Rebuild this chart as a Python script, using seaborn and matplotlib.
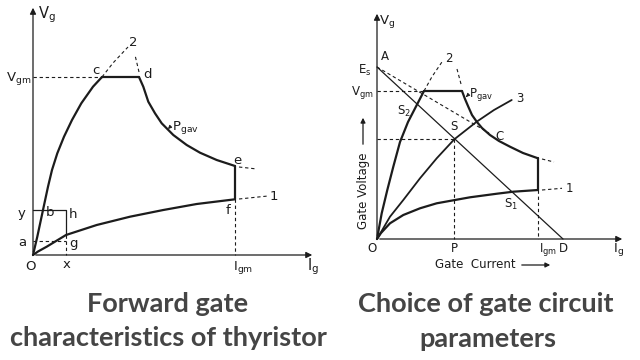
import matplotlib
matplotlib.use("Agg")
import matplotlib.pyplot as plt
import seaborn as sns

# ---- left diagram: forward gate characteristics (units) ----
L_IGM, L_VGM = 202, 178
L_X, L_Y, L_A = 33, 45, 14
L_upper_ig = [0, 4.3, 10, 15, 19, 24.3, 31, 39, 48.3, 60, 69]
L_upper_vg = [0, 18.3, 45, 68.3, 85, 101.7, 118.3, 135, 151.7, 168.3, 178]
L_top_ig = [69, 106]
L_pgav_ig = [106, 110.3, 115.3, 122, 128.7, 140.3, 153.7, 167, 183.7, 202]
L_pgav_vg = [178, 168.3, 153.3, 141.7, 131.7, 120, 110, 102.3, 95, 89]
L_lower_ig = [0, 5, 13.7, 33, 63.7, 97, 130.3, 163.7, 202]
L_lower_vg = [0, 3.5, 8.3, 20, 30, 38.3, 45, 51, 55.7]
L_ext2_ig, L_ext2_vg = [69, 80, 95], [178, 192, 208]
L_extd_ig, L_extd_vg = [106, 102], [183, 200]
L_exte_ig, L_exte_vg = [206, 224], [88, 86]
L_ext1_ig, L_ext1_vg = [206, 235], [56, 59]

# ---- right diagram: choice of gate circuit parameters ----
R_IGM, R_VGM, R_ES, R_D = 161, 148, 172, 186
R_P, R_VS = 77.3, 99.7
R_curve2_ig = [0, 4.7, 10.3, 16.3, 23, 31, 39, 47]
R_curve2_vg = [0, 25.7, 49, 72.3, 97, 117, 132.5, 148]
R_top_ig = [47, 85]
R_pgav_ig = [85, 88, 91.3, 95, 99.7, 105, 113, 122, 133, 146, 161]
R_pgav_vg = [148, 140, 132.3, 124, 117.3, 111, 104, 98, 92.3, 86, 80.7]
R_curve1_ig = [0, 4, 13, 26.3, 43, 59.7, 93, 120, 136.3, 161]
R_curve1_vg = [0, 6, 15.7, 24, 30.7, 35.7, 41.7, 45.3, 47.3, 49]
R_curve3_ig = [0, 13, 26.3, 43, 59.7, 77.3, 99.7, 117, 134.7]
R_curve3_vg = [0, 22.3, 39, 60.7, 80.7, 99.7, 117.3, 129, 139]
R_tangent_ig, R_tangent_vg = [0, 112], [172, 106]
R_ext2_ig, R_ext2_vg = [47, 55, 66.3], [148, 162.3, 179]
R_extd_ig, R_extd_vg = [84, 80], [155, 170]
R_exte_ig, R_exte_vg = [165, 177], [80, 77]
R_ext1_ig, R_ext1_vg = [165, 185], [49, 50.7]

INK = "#1c1c1c"

sns.set_theme(style="white")
plt.rcParams["font.family"] = ["DejaVu Sans"]
plt.rcParams["mathtext.default"] = "regular"

fig = plt.figure(figsize=(6.4, 3.6), dpi=100)
axl = fig.add_axes([0, 70 / 360, 0.5, 290 / 360])
axr = fig.add_axes([0.5, 70 / 360, 0.5, 290 / 360])
axl.set_xlim(-33, 287)
axl.set_ylim(-35, 255)
axr.set_xlim(-57, 263)
axr.set_ylim(-51, 239)


def curve(ax, xs, ys, lw=1.6, ls="-"):
    sns.lineplot(x=xs, y=ys, sort=False, estimator=None, color=INK,
                 lw=lw, linestyle=ls, ax=ax, solid_joinstyle="round")


def dash(ax, xs, ys):
    curve(ax, xs, ys, lw=0.8, ls=(0, (3, 2.5)))


def axes_arrows(ax, xmax, ymax):
    kw = dict(arrowstyle="-|>", lw=0.9, color=INK, mutation_scale=9)
    ax.annotate("", xy=(xmax, 0), xytext=(0, 0), arrowprops=kw)
    ax.annotate("", xy=(0, ymax), xytext=(0, 0), arrowprops=kw)


# left panel
ax = axl
axes_arrows(ax, 282, 250)
curve(ax, L_upper_ig, L_upper_vg)
curve(ax, L_top_ig, [L_VGM] * 2)
curve(ax, L_pgav_ig, L_pgav_vg)
curve(ax, [L_IGM, L_IGM], [L_pgav_vg[-1], L_lower_vg[-1]])
curve(ax, L_lower_ig, L_lower_vg)
dash(ax, L_ext2_ig, L_ext2_vg)
dash(ax, L_extd_ig, L_extd_vg)
dash(ax, L_exte_ig, L_exte_vg)
dash(ax, L_ext1_ig, L_ext1_vg)
dash(ax, [0, L_top_ig[0]], [L_VGM] * 2)
dash(ax, [L_IGM, L_IGM], [L_lower_vg[-1], 0])
dash(ax, [0, L_X], [L_A, L_A])
dash(ax, [L_X, L_X], [20, 0])
curve(ax, [0, L_X, L_X], [L_Y, L_Y, 20], lw=0.9)

t = dict(color=INK, fontsize=9.5, ha="center", va="center")
ax.text(14, 240, "V$_g$", **dict(t, fontsize=10.5))
ax.text(-2, 176, "V$_{gm}$", **dict(t, ha="right"))
ax.text(-11, 42, "y", **t)
ax.text(-11, 12, "a", **t)
ax.text(-2, -12, "O", **t)
ax.text(34, -10, "x", **t)
ax.text(210, -12, "I$_{gm}$", **t)
ax.text(280, -12, "I$_g$", **dict(t, fontsize=10.5))
ax.text(17, 43, "b", **t)
ax.text(40, 41, "h", **t)
ax.text(40, 12, "g", **t)
ax.text(63, 185, "c", **t)
ax.text(115, 180, "d", **t)
ax.text(204, 94, "e", **t)
ax.text(195, 44, "f", **t)
ax.text(100, 213, "2", **t)
ax.text(241, 59, "1", **t)
ax.text(139, 128, "P$_{gav}$", **dict(t, ha="left"))
ax.annotate("", xy=(133, 124), xytext=(139, 130),
            arrowprops=dict(arrowstyle="-|>", lw=0.7, color=INK, mutation_scale=5))

# right panel
ax = axr
axes_arrows(ax, 248, 228)
curve(ax, R_curve2_ig, R_curve2_vg)
curve(ax, R_top_ig, [R_VGM] * 2)
curve(ax, R_pgav_ig, R_pgav_vg)
curve(ax, [R_IGM, R_IGM], [R_pgav_vg[-1], R_curve1_vg[-1]])
curve(ax, R_curve1_ig, R_curve1_vg)
curve(ax, R_curve3_ig, R_curve3_vg, lw=1.3)
curve(ax, [0, R_D], [R_ES, 0], lw=0.9)
dash(ax, R_tangent_ig, R_tangent_vg)
dash(ax, R_ext2_ig, R_ext2_vg)
dash(ax, R_extd_ig, R_extd_vg)
dash(ax, R_exte_ig, R_exte_vg)
dash(ax, R_ext1_ig, R_ext1_vg)
dash(ax, [0, R_top_ig[0]], [R_VGM] * 2)
dash(ax, [0, R_P], [R_VS, R_VS])
dash(ax, [R_P, R_P], [R_VS, 0])
dash(ax, [R_IGM, R_IGM], [R_curve1_vg[-1], 0])

t = dict(color=INK, fontsize=8.5, ha="center", va="center")
ax.text(10, 217, "V$_g$", **dict(t, fontsize=9.5))
ax.text(8, 182, "A", **t)
ax.text(-12, 169, "E$_s$", **t)
ax.text(-3, 146, "V$_{gm}$", **dict(t, ha="right"))
ax.text(27, 128, "S$_2$", **t)
ax.text(77, 112, "S", **t)
ax.text(123, 102, "C", **t)
ax.text(134, 35, "S$_1$", **t)
ax.text(72, 180, "2", **t)
ax.text(143, 140, "3", **t)
ax.text(192, 51, "1", **t)
ax.text(92, 144, "P$_{gav}$", **dict(t, ha="left"))
ax.annotate("", xy=(87, 140), xytext=(92, 145),
            arrowprops=dict(arrowstyle="-|>", lw=0.7, color=INK, mutation_scale=5))
ax.text(-5, -9, "O", **t)
ax.text(R_P, -9, "P", **t)
ax.text(171, -10, "I$_{gm}$", **t)
ax.text(R_D, -9, "D", **t)
ax.text(242, -10, "I$_g$", **dict(t, fontsize=9.5))
ax.text(98, -26, "Gate  Current", **t)
ax.annotate("", xy=(176, -26), xytext=(142, -26),
            arrowprops=dict(arrowstyle="-|>", lw=0.9, color=INK, mutation_scale=7))
ax.text(-14, 48, "Gate Voltage", rotation=90, **t)
ax.annotate("", xy=(-14, 124), xytext=(-14, 92),
            arrowprops=dict(arrowstyle="-|>", lw=0.9, color=INK, mutation_scale=7))

for a in (axl, axr):
    a.axis("off")

tt = dict(color="#454545", fontsize=19.5, fontweight="bold", family=["Lato", "DejaVu Sans"],
          ha="center", va="baseline")
fig.text(168 / 640, 1 - 312 / 360, "Forward gate", **tt)
fig.text(168.5 / 640, 1 - 346 / 360, "characteristics of thyristor", **tt)
fig.text(486 / 640, 1 - 312 / 360, "Choice of gate circuit", **tt)
fig.text(487.5 / 640, 1 - 347 / 360, "parameters", **tt)

fig.savefig("out.png", dpi=100, facecolor="white")
